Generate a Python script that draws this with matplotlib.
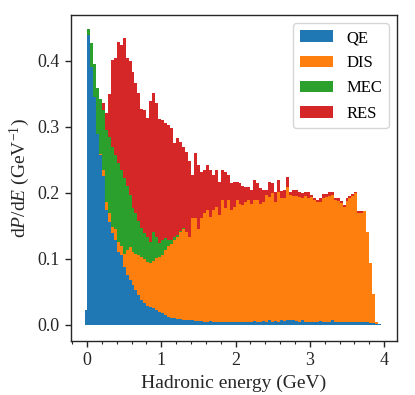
import numpy as np
import matplotlib
matplotlib.use("Agg")
import matplotlib.pyplot as plt
from matplotlib.ticker import MultipleLocator

plt.rcParams['font.family'] = ['Liberation Serif', 'DejaVu Serif']
plt.rcParams['mathtext.fontset'] = 'custom'
plt.rcParams['mathtext.rm'] = 'Liberation Serif'
plt.rcParams['mathtext.it'] = 'Liberation Serif:italic'

# bin edges (GeV): one narrow bin below zero, then 0.04 GeV bins up to 3.96
edges = np.concatenate([[-0.02], np.arange(0, 100) * 0.04])
centers = 0.5 * (edges[:-1] + edges[1:])

# cumulative tops
qe_top = [0.023, 0.439, 0.391, 0.345, 0.290, 0.257, 0.225, 0.174, 0.156, 0.139,
          0.129, 0.111, 0.106, 0.088, 0.076, 0.068, 0.061, 0.053, 0.045, 0.038,
          0.033, 0.029, 0.027, 0.025, 0.023, 0.020, 0.018, 0.015, 0.012, 0.011,
          0.010, 0.009, 0.009, 0.008, 0.008, 0.007, 0.007, 0.006, 0.006, 0.006,
          0.005, 0.005, 0.006, 0.005, 0.004, 0.005, 0.005, 0.004, 0.005, 0.004,
          0.005, 0.004, 0.005, 0.004, 0.005, 0.005, 0.004, 0.006, 0.005, 0.004,
          0.006, 0.005, 0.008, 0.005, 0.006, 0.004, 0.008, 0.006, 0.007, 0.007,
          0.007, 0.006, 0.005, 0.007, 0.005, 0.004, 0.005, 0.005, 0.005, 0.006,
          0.005, 0.005, 0.004, 0.007, 0.004, 0.005, 0.005, 0.005, 0.004, 0.004,
          0.005, 0.004, 0.004, 0.005, 0.004, 0.004, 0.003, 0.003, 0.002, 0.001]
dis_top = [0.023, 0.439, 0.391, 0.345, 0.290, 0.259, 0.235, 0.187, 0.169, 0.149,
           0.146, 0.126, 0.120, 0.108, 0.113, 0.118, 0.111, 0.108, 0.106, 0.103,
           0.100, 0.096, 0.094, 0.097, 0.101, 0.103, 0.106, 0.114, 0.119, 0.122,
           0.129, 0.134, 0.141, 0.146, 0.141, 0.134, 0.162, 0.162, 0.146, 0.162,
           0.169, 0.174, 0.164, 0.174, 0.179, 0.167, 0.189, 0.177, 0.189, 0.174,
           0.179, 0.189, 0.184, 0.182, 0.187, 0.189, 0.184, 0.190, 0.189, 0.184,
           0.187, 0.197, 0.194, 0.200, 0.187, 0.202, 0.192, 0.192, 0.209, 0.197,
           0.196, 0.196, 0.194, 0.193, 0.196, 0.192, 0.194, 0.190, 0.186, 0.187,
           0.193, 0.194, 0.196, 0.197, 0.189, 0.188, 0.185, 0.178, 0.188, 0.192,
           0.196, 0.200, 0.170, 0.170, 0.172, 0.141, 0.094, 0.047, 0.004, 0.002]
mec_top = [0.023, 0.448, 0.427, 0.396, 0.359, 0.343, 0.326, 0.295, 0.285, 0.270,
           0.257, 0.245, 0.235, 0.222, 0.210, 0.197, 0.177, 0.169, 0.157, 0.147,
           0.139, 0.134, 0.126, 0.141, 0.134, 0.124, 0.129, 0.131, 0.129, 0.128,
           0.134, 0.137, 0.143, 0.147] + dis_top[34:]
res_top = [0.023, 0.448, 0.427, 0.396, 0.359, 0.343, 0.336, 0.321, 0.350, 0.402,
           0.404, 0.429, 0.424, 0.435, 0.405, 0.400, 0.383, 0.366, 0.352, 0.328,
           0.326, 0.314, 0.339, 0.352, 0.337, 0.312, 0.311, 0.306, 0.303, 0.299,
           0.275, 0.283, 0.277, 0.270, 0.262, 0.248, 0.227, 0.260, 0.242, 0.232,
           0.235, 0.242, 0.235, 0.227, 0.235, 0.217, 0.235, 0.232, 0.227, 0.215,
           0.217, 0.217, 0.215, 0.211, 0.209, 0.209, 0.205, 0.219, 0.215, 0.207,
           0.204, 0.204, 0.216, 0.215, 0.202, 0.220, 0.203, 0.205, 0.224, 0.202,
           0.204, 0.205, 0.202, 0.200, 0.202, 0.202, 0.197, 0.192, 0.190, 0.193,
           0.199, 0.199, 0.201, 0.201, 0.193, 0.192, 0.188, 0.182, 0.192, 0.195,
           0.199, 0.202, 0.173, 0.172, 0.173, 0.141, 0.094, 0.047, 0.004, 0.002]

labels = ["QE", "DIS", "MEC", "RES"]
colors = ["#1f77b4", "#ff7f0e", "#2ca02c", "#d62728"]

tops = np.array([qe_top, dis_top, mec_top, res_top])
parts = np.diff(np.vstack([np.zeros(len(centers)), tops]), axis=0)
parts = np.clip(parts, 0, None)

fig = plt.figure(figsize=(4.15, 3.95), dpi=100)
ax = fig.add_axes([0.171, 0.137, 0.786, 0.825])

ax.hist([centers] * 4, bins=edges, weights=list(parts), stacked=True,
        histtype="stepfilled", color=colors, label=labels, linewidth=0)

ax.set_xlim(-0.215, 4.175)
ax.set_ylim(-0.0242, 0.4697)

ax.set_xlabel("Hadronic energy (GeV)", fontsize=14, color=".15")
ax.set_ylabel(r"$\mathrm{d}P/\mathrm{d}E$ (GeV$^{-1}$)", fontsize=14, color=".15")
ax.set_yticks([0.0, 0.1, 0.2, 0.3, 0.4])
ax.xaxis.set_major_locator(MultipleLocator(1))
ax.xaxis.set_minor_locator(MultipleLocator(0.2))
ax.tick_params(which="major", direction="out", length=4.5, width=1, labelsize=13,
               color=".15", labelcolor=".15")
ax.tick_params(which="minor", direction="out", length=2.5, width=0.8, color=".15")
for s in ax.spines.values():
    s.set_color(".15")
    s.set_linewidth(1)

# stacked hist lists handles top-down; put them back in QE..RES order
handles, names = ax.get_legend_handles_labels()
order = [names.index(n) for n in labels]
ax.legend([handles[i] for i in order], [names[i] for i in order],
          loc="upper right", fontsize=12, edgecolor="0.8", framealpha=0.8,
          labelspacing=0.55)

fig.savefig("out.png", dpi=100)
